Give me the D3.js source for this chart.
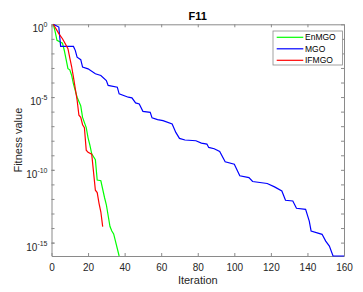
<!DOCTYPE html>
<html>
<head>
<meta charset="utf-8">
<script src="https://cdn.jsdelivr.net/npm/d3@7"></script>
<style>
  body { margin: 0; background: #fff; }
  svg { font-family: "Liberation Sans", Arial, sans-serif; }
  .axis path, .axis line { stroke: #8a8a8a; }
  .axis text { fill: #262626; font-size: 10px; }
</style>
</head>
<body>
<div class="chart"></div>
<script>
// convergence curves, values given as log10(fitness)
var enmgoIter = [1, 2, 3, 6, 7, 9, 10, 11, 12, 14, 15, 16, 17, 19, 20, 21, 22, 24, 25, 27, 29, 30, 32, 33, 34, 37];
var enmgoLog  = [0, -0.5, -1.1, -1.3, -1.8, -3.05, -3.13, -3.5, -4.09, -5.01, -5.3, -5.6, -6.4, -7.1, -7.8, -8.3, -8.9, -9.3, -10.7, -10.75, -11.9, -12.4, -13.9, -14.2, -14.4, -15.92];

var mgoIter = [1, 4, 5, 12, 13, 14, 16, 17, 20, 24, 27, 30, 31, 36, 37, 42, 44, 46, 48, 50, 54, 55, 58, 61, 66, 68, 70, 73, 79, 82, 85, 86, 89, 92, 95, 100, 103, 108, 110, 118, 122, 126, 128, 132, 134, 139, 141, 142, 148, 150, 152, 154, 160];
var mgoLog  = [0, -0.19, -1.52, -1.52, -1.79, -2.26, -2.43, -2.94, -3.06, -3.4, -3.52, -3.86, -4.2, -4.32, -4.78, -5.01, -5.05, -5.4, -5.47, -5.98, -6.05, -6.43, -6.55, -6.62, -6.85, -7.43, -7.84, -7.95, -8.0, -8.16, -8.23, -8.46, -8.55, -8.74, -9.45, -9.61, -10.41, -10.53, -10.8, -10.94, -11.17, -11.45, -12.09, -12.14, -12.64, -12.71, -13.52, -14.2, -14.43, -14.9, -15.24, -15.92, -15.92];

var ifmgoIter = [1, 4, 6, 7, 9, 10, 11, 12, 14, 15, 16, 17, 18, 19, 20, 22, 24, 25, 26, 27, 28];
var ifmgoLog  = [0, -0.64, -0.99, -1.22, -1.68, -2.3, -2.9, -3.63, -5.2, -6.25, -6.39, -6.9, -7.1, -8.65, -8.8, -8.92, -11.4, -11.56, -12.3, -12.9, -13.9];

var xTicks = [0, 20, 40, 60, 80, 100, 120, 140, 160];
var yTickExps = [0, -5, -10, -15];
var yMinExp = -15.92;

var series = [
  {name: 'EnMGO', iter: enmgoIter, logv: enmgoLog, color: '#00ff00'},
  {name: 'MGO', iter: mgoIter, logv: mgoLog, color: '#0000ff'},
  {name: 'IFMGO', iter: ifmgoIter, logv: ifmgoLog, color: '#ff0000'}
];

var W = 363, H = 292;
var margin = {top: 24.3, right: 19, bottom: 36, left: 51.5};

var x = d3.scaleLinear()
  .domain([0, 160])
  .range([margin.left, W - margin.right]);

var y = d3.scaleLog()
  .domain([Math.pow(10, yMinExp), 1])
  .range([H - margin.bottom, margin.top]);

var svg = d3.select('.chart').append('svg')
  .attr('width', W)
  .attr('height', H);

svg.append('rect')
  .attr('x', x(0)).attr('y', y(1))
  .attr('width', x(160) - x(0))
  .attr('height', y(Math.pow(10, yMinExp)) - y(1))
  .style('fill', '#fff');

svg.append('clipPath').attr('id', 'clip')
  .append('rect')
  .attr('x', x(0)).attr('y', y(1) - 1)
  .attr('width', x(160) - x(0))
  .attr('height', y(Math.pow(10, yMinExp)) - y(1) + 2);

var decades = d3.range(0, -16, -1).map(e => Math.pow(10, e));

// bottom axis
svg.append('g')
  .attr('class', 'axis')
  .attr('transform', `translate(0,${y(Math.pow(10, yMinExp))})`)
  .call(d3.axisBottom(x).tickValues(xTicks).tickSizeInner(-3).tickSizeOuter(0).tickPadding(8));

// top axis
svg.append('g')
  .attr('class', 'axis')
  .attr('transform', `translate(0,${y(1)})`)
  .call(d3.axisTop(x).tickValues(xTicks).tickSizeInner(-3).tickSizeOuter(0).tickFormat(''));

// left axis, minor decade ticks
svg.append('g')
  .attr('class', 'axis')
  .attr('transform', `translate(${x(0)},0)`)
  .call(d3.axisLeft(y).tickValues(decades).tickSizeInner(-3).tickSizeOuter(0).tickFormat(''));

// left axis labels 10^n
var gY = svg.append('g')
  .attr('class', 'axis')
  .attr('transform', `translate(${x(0)},0)`)
  .call(d3.axisLeft(y).tickValues(yTickExps.map(e => Math.pow(10, e))).tickSizeInner(-3).tickSizeOuter(0).tickFormat(''));
gY.select('.domain').remove();
gY.selectAll('.tick').each(function(d, i) {
  var t = d3.select(this).append('text')
    .attr('x', -4)
    .attr('y', 7.5)
    .attr('dy', null)
    .style('text-anchor', 'end');
  t.append('tspan').text('10');
  t.append('tspan')
    .attr('dy', -5)
    .style('font-size', '7px')
    .text(yTickExps[i]);
});

// right axis
svg.append('g')
  .attr('class', 'axis')
  .attr('transform', `translate(${x(160)},0)`)
  .call(d3.axisRight(y).tickValues(decades).tickSizeInner(-3).tickSizeOuter(0).tickFormat(''));

var line = d3.line()
  .x(d => x(d[0]))
  .y(d => y(Math.pow(10, d[1])));

var plot = svg.append('g').attr('clip-path', 'url(#clip)');

series.forEach(function(s) {
  plot.append('path')
    .datum(s.iter.map((it, i) => [it, s.logv[i]]))
    .attr('d', line)
    .style('fill', 'none')
    .style('stroke', s.color)
    .style('stroke-width', 1.2);
});

// title and labels
svg.append('text')
  .attr('x', (x(0) + x(160)) / 2)
  .attr('y', 19.5)
  .style('text-anchor', 'middle')
  .style('font-weight', 'bold')
  .style('font-size', '11px')
  .style('fill', '#000')
  .text('F11');

svg.append('text')
  .attr('x', (x(0) + x(160)) / 2)
  .attr('y', 284)
  .style('text-anchor', 'middle')
  .style('font-size', '11px')
  .style('fill', '#262626')
  .text('Iteration');

svg.append('text')
  .attr('transform', `translate(22,${(y(1) + y(Math.pow(10, yMinExp))) / 2}) rotate(-90)`)
  .style('text-anchor', 'middle')
  .style('font-size', '11px')
  .style('fill', '#262626')
  .text('Fitness value');

// legend
var lg = svg.append('g').attr('transform', 'translate(273,31)');
lg.append('rect')
  .attr('width', 69.5)
  .attr('height', 34)
  .style('fill', '#fff')
  .style('stroke', '#8a8a8a')
  .style('stroke-width', 0.8);

series.forEach(function(s, i) {
  var yy = 6.3 + i * 11.5;
  lg.append('line')
    .attr('x1', 3.7).attr('x2', 30.3)
    .attr('y1', yy).attr('y2', yy)
    .style('stroke', s.color)
    .style('stroke-width', 1.2);
  lg.append('text')
    .attr('x', 32)
    .attr('y', yy + 3)
    .style('font-size', '8.5px')
    .style('fill', '#000')
    .text(s.name);
});
</script>
</body>
</html>
